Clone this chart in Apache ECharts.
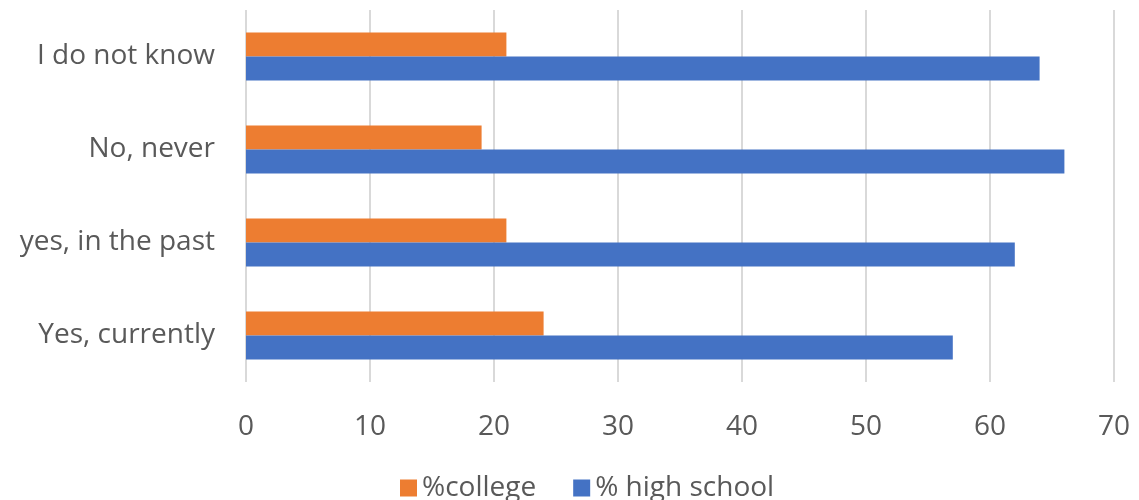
<!DOCTYPE html>
<html>
<head>
<meta charset="utf-8">
<script src="https://cdn.jsdelivr.net/npm/echarts@6/dist/echarts.min.js"></script>
<style>
  html, body { margin: 0; padding: 0; background: #ffffff; }
  #chart { width: 1139px; height: 500px; }
</style>
</head>
<body>
<div id="chart"></div>
<script>
// Answer categories, listed bottom to top
const categories = ['Yes, currently', 'yes, in the past', 'No, never', 'I do not know'];
// Share of respondents (%) per group
const collegeValues = [24, 21, 19, 21];
const highSchoolValues = [57, 62, 66, 64];
// Value axis ticks
const axisMin = 0;
const axisMax = 70;
const axisStep = 10;

const textColor = '#595959';
const fontFamily = 'Open Sans, Liberation Sans, sans-serif';

const chart = echarts.init(document.getElementById('chart'), null, { renderer: 'canvas' });
chart.setOption({
  animation: false,
  backgroundColor: '#ffffff',
  textStyle: { fontFamily: fontFamily },
  grid: { left: 246, right: 25, top: 10, bottom: 118, containLabel: false },
  legend: {
    data: ['%college', '% high school'],
    left: 395,
    top: 469,
    icon: 'rect',
    itemWidth: 17,
    itemHeight: 17,
    itemGap: 37,
    textStyle: { color: textColor, fontSize: 28, fontFamily: fontFamily, padding: [0, 0, 0, 0] }
  },
  xAxis: {
    type: 'value',
    min: axisMin,
    max: axisMax,
    interval: axisStep,
    axisLine: { show: false },
    axisTick: { show: false },
    axisLabel: { color: textColor, fontSize: 28, margin: 31, fontFamily: fontFamily },
    splitLine: { show: true, lineStyle: { color: '#d9d9d9', width: 2 } }
  },
  yAxis: {
    type: 'category',
    data: categories,
    axisLine: { show: false },
    axisTick: { show: false },
    axisLabel: { color: textColor, fontSize: 28, margin: 31, padding: [4, 0, 0, 0], fontFamily: fontFamily },
    splitLine: { show: false }
  },
  series: [
    {
      name: '%college',
      type: 'bar',
      data: collegeValues,
      barWidth: 24,
      barGap: '0%',
      itemStyle: { color: '#ED7D31' }
    },
    {
      name: '% high school',
      type: 'bar',
      data: highSchoolValues,
      barWidth: 24,
      barGap: '0%',
      itemStyle: { color: '#4472C4' }
    }
  ]
});
</script>
</body>
</html>
